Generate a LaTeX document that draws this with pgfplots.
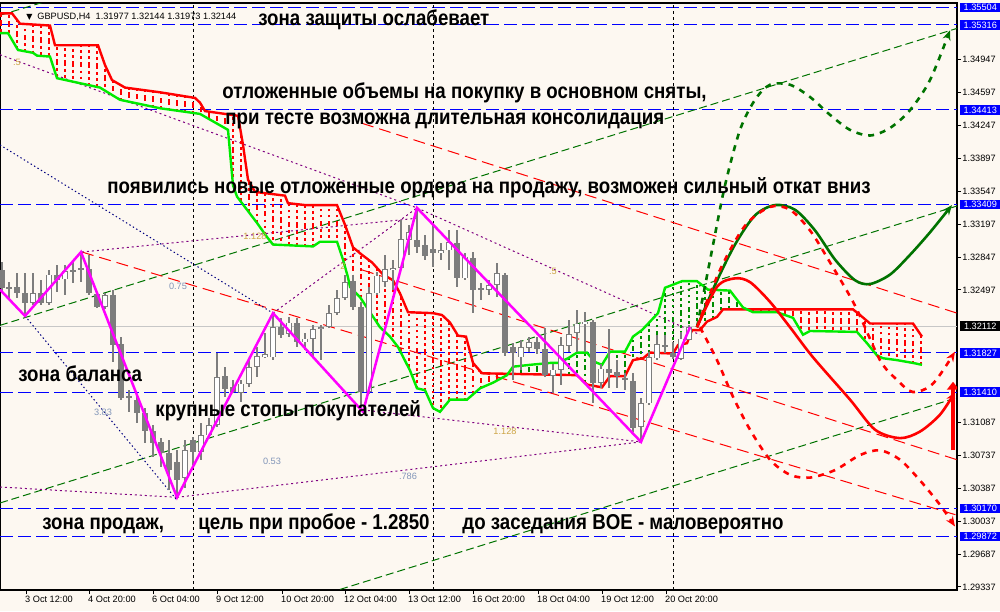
\documentclass[border=0pt]{standalone}
\usepackage{fontspec}
\setmainfont{Liberation Sans}
\newfontfamily\dejavu{DejaVu Sans}
\usepackage{pgfplots}
\usepackage{pgfplotstable}
\pgfplotsset{compat=1.18}
\usetikzlibrary{arrows.meta}
\definecolor{bg}{RGB}{253,248,241}
\definecolor{cgray}{RGB}{125,125,125}
\definecolor{dgreen}{RGB}{0,115,0}
\definecolor{hgreen}{RGB}{0,140,0}
\definecolor{lgreen}{RGB}{0,235,0}
\definecolor{mag}{RGB}{255,0,255}
\definecolor{purp}{RGB}{128,0,128}
\definecolor{navy}{RGB}{0,0,128}
\definecolor{fibor}{RGB}{205,165,70}
\definecolor{fibbl}{RGB}{130,150,185}
\definecolor{lblue}{RGB}{0,0,255}
\newcommand\tickfont{\fontsize{4.6}{5}\selectfont}
\newcommand\annot[1]{\scalebox{1}[1.15]{\fontsize{9.35}{10}\selectfont\bfseries #1}}
\pgfplotsset{nomark/.style={only marks, mark=*, mark size=0pt, mark options={draw=none, fill=none}}}

% candles: x open high low close
\pgfplotstableread{
x o h l c
2 1.3271 1.3280 1.3248 1.3252
9 1.3253 1.3258 1.3239 1.3251
17 1.3253 1.3268 1.3241 1.3246
25 1.3246 1.3268 1.3222 1.3236
41 1.3246 1.3260 1.3234 1.3236
57 1.3266 1.3276 1.3248 1.3260
73 1.3271 1.3282 1.3257 1.3269
81 1.3273 1.3290 1.3258 1.3271
89 1.3272 1.3287 1.3244 1.3246
97 1.3245 1.3248 1.3230 1.3232
113 1.3244 1.3250 1.3173 1.3191
121 1.3192 1.3200 1.3133 1.3135
129 1.3137 1.3143 1.3120 1.3135
137 1.3133 1.3138 1.3108 1.3119
145 1.3119 1.3124 1.3087 1.3100
153 1.3100 1.3106 1.3072 1.3087
161 1.3088 1.3092 1.3061 1.3076
169 1.3076 1.3090 1.3037 1.3058
177 1.3067 1.3079 1.3029 1.3048
193 1.3090 1.3093 1.3063 1.3077
225 1.3158 1.3168 1.3136 1.3144
233 1.3147 1.3154 1.3140 1.3141
281 1.3210 1.3220 1.3199 1.3202
297 1.3215 1.3220 1.3189 1.3194
353 1.3259 1.3266 1.3228 1.3231
361 1.3232 1.3237 1.3122 1.3141
417 1.3303 1.3337 1.3289 1.3296
425 1.3298 1.3308 1.3282 1.3286
433 1.3293 1.3321 1.3274 1.3289
457 1.3300 1.3314 1.3253 1.3262
473 1.3284 1.3290 1.3225 1.3250
481 1.3252 1.3257 1.3239 1.3250
505 1.3266 1.3268 1.3179 1.3183
513 1.3189 1.3193 1.3154 1.3183
537 1.3194 1.3200 1.3181 1.3187
545 1.3187 1.3209 1.3157 1.3159
593 1.3216 1.3218 1.3129 1.3151
609 1.3166 1.3208 1.3145 1.3161
617 1.3162 1.3175 1.3145 1.3158
625 1.3156 1.3161 1.3143 1.3154
633 1.3153 1.3161 1.3099 1.3103
665 1.3191 1.3202 1.3183 1.3189
673 1.3183 1.3194 1.3176 1.3178
}\bear
\pgfplotstableread{
x o h l c
33 1.3236 1.3268 1.3234 1.3246
49 1.3236 1.3271 1.3234 1.3266
65 1.3261 1.3276 1.3244 1.3270
105 1.3232 1.3246 1.3230 1.3244
185 1.3050 1.3090 1.3039 1.3079
201 1.3077 1.3108 1.3069 1.3095
209 1.3095 1.3114 1.3092 1.3106
217 1.3106 1.3183 1.3104 1.3157
241 1.3140 1.3154 1.3130 1.3150
249 1.3150 1.3175 1.3147 1.3168
257 1.3168 1.3189 1.3157 1.3179
265 1.3178 1.3204 1.3177 1.3181
273 1.3178 1.3225 1.3175 1.3210
289 1.3203 1.3221 1.3200 1.3215
305 1.3194 1.3204 1.3186 1.3198
313 1.3198 1.3212 1.3178 1.3208
321 1.3209 1.3212 1.3175 1.3210
329 1.3210 1.3234 1.3209 1.3225
337 1.3225 1.3250 1.3223 1.3241
345 1.3241 1.3266 1.3239 1.3258
369 1.3141 1.3253 1.3139 1.3246
377 1.3246 1.3269 1.3244 1.3265
385 1.3258 1.3287 1.3253 1.3272
393 1.3271 1.3282 1.3250 1.3273
401 1.3273 1.3324 1.3271 1.3304
409 1.3303 1.3319 1.3287 1.3311
441 1.3289 1.3300 1.3282 1.3292
449 1.3292 1.3314 1.3271 1.3301
465 1.3262 1.3289 1.3260 1.3285
489 1.3250 1.3260 1.3244 1.3255
497 1.3255 1.3278 1.3242 1.3268
521 1.3178 1.3196 1.3165 1.3189
529 1.3188 1.3200 1.3184 1.3194
553 1.3158 1.3171 1.3140 1.3165
561 1.3165 1.3200 1.3149 1.3191
569 1.3190 1.3218 1.3184 1.3203
577 1.3204 1.3228 1.3184 1.3214
585 1.3214 1.3226 1.3184 1.3216
601 1.3151 1.3171 1.3145 1.3166
641 1.3104 1.3135 1.3088 1.3129
649 1.3129 1.3184 1.3127 1.3178
657 1.3177 1.3202 1.3175 1.3192
681 1.3176 1.3205 1.3175 1.3198
689 1.3197 1.3212 1.3196 1.3210
}\bull
\pgfplotstableread{
x y
0 1.3544
12 1.3544
20 1.3533
50 1.3531
55 1.3510
98 1.3510
105 1.3489
112 1.3473
125 1.3465
160 1.3460
195 1.3454
200 1.3449
205 1.3440
238 1.3435
243 1.3404
248 1.3367
255 1.3354
285 1.3350
288 1.3342
305 1.3340
337 1.3340
345 1.3319
353 1.3295
362 1.3287
372 1.3279
383 1.3266
393 1.3260
400 1.3246
408 1.3226
433 1.3225
442 1.3223
450 1.3215
458 1.3201
466 1.3200
473 1.3172
482 1.3161
577 1.3159
587 1.3149
602 1.3146
610 1.3158
625 1.3158
633 1.3175
643 1.3177
650 1.3183
673 1.3182
678 1.3191
687 1.3193
692 1.3207
700 1.3207
707 1.3216
717 1.3221
723 1.3229
853 1.3229
860 1.3223
870 1.3214
913 1.3214
922 1.3200
}\redline
\pgfplotstableread{
x y
0 1.3523
8 1.3523
18 1.3505
33 1.3502
37 1.3499
50 1.3498
57 1.3475
100 1.3465
120 1.3452
160 1.3443
200 1.3437
228 1.3420
233 1.3361
237 1.3349
257 1.3321
267 1.3306
273 1.3298
313 1.3296
320 1.3301
337 1.3301
343 1.3282
348 1.3263
350 1.3253
360 1.3242
370 1.3226
380 1.3210
390 1.3200
398 1.3189
410 1.3164
417 1.3145
425 1.3143
433 1.3124
440 1.3120
450 1.3133
467 1.3133
480 1.3145
493 1.3151
507 1.3159
513 1.3168
530 1.3170
550 1.3172
558 1.3172
568 1.3177
577 1.3183
587 1.3183
595 1.3173
602 1.3170
610 1.3184
625 1.3184
633 1.3200
642 1.3207
650 1.3216
658 1.3225
665 1.3252
682 1.3259
697 1.3259
708 1.3250
730 1.3249
743 1.3231
753 1.3226
777 1.3226
793 1.3220
803 1.3202
810 1.3206
857 1.3205
867 1.3193
877 1.3180
883 1.3177
897 1.3175
913 1.3172
922 1.3170
}\greenline
% cloud hatching: x, red line, green line
\pgfplotstableread{
x r g
1 1.3544 1.3523
9 1.3544 1.3521
17 1.3537 1.3507
25 1.3533 1.3504
33 1.3532 1.3502
41 1.3532 1.3499
49 1.3531 1.3498
57 1.3510 1.3475
65 1.3510 1.3473
73 1.3510 1.3471
81 1.3510 1.3469
89 1.3510 1.3468
97 1.3510 1.3466
105 1.3489 1.3462
113 1.3472 1.3456
121 1.3468 1.3452
129 1.3464 1.3450
137 1.3463 1.3448
145 1.3462 1.3446
153 1.3461 1.3445
161 1.3460 1.3443
169 1.3458 1.3442
177 1.3457 1.3440
185 1.3456 1.3439
193 1.3455 1.3438
201 1.3447 1.3436
209 1.3439 1.3431
217 1.3438 1.3426
225 1.3437 1.3422
233 1.3436 1.3361
241 1.3416 1.3343
249 1.3365 1.3332
257 1.3354 1.3321
265 1.3353 1.3309
273 1.3352 1.3298
281 1.3351 1.3298
289 1.3342 1.3297
297 1.3341 1.3297
305 1.3340 1.3296
313 1.3340 1.3296
321 1.3340 1.3301
329 1.3340 1.3301
337 1.3340 1.3301
345 1.3319 1.3274
353 1.3295 1.3250
361 1.3288 1.3240
369 1.3281 1.3228
377 1.3273 1.3215
385 1.3265 1.3205
393 1.3260 1.3196
401 1.3244 1.3183
409 1.3226 1.3166
417 1.3226 1.3145
425 1.3225 1.3143
433 1.3225 1.3124
441 1.3223 1.3121
449 1.3216 1.3132
457 1.3203 1.3133
465 1.3200 1.3133
473 1.3172 1.3139
481 1.3162 1.3145
489 1.3161 1.3149
497 1.3161 1.3153
753 1.3229 1.3226
761 1.3229 1.3226
769 1.3229 1.3226
777 1.3229 1.3226
785 1.3229 1.3223
793 1.3229 1.3220
801 1.3229 1.3206
809 1.3229 1.3205
817 1.3229 1.3206
825 1.3229 1.3206
833 1.3229 1.3205
841 1.3229 1.3205
849 1.3229 1.3205
857 1.3226 1.3205
865 1.3219 1.3195
873 1.3214 1.3185
881 1.3214 1.3178
889 1.3214 1.3176
897 1.3214 1.3175
905 1.3214 1.3173
913 1.3214 1.3172
921 1.3202 1.3170
}\hatchred
\pgfplotstableread{
x r g
513 1.3161 1.3168
521 1.3160 1.3169
529 1.3160 1.3170
537 1.3160 1.3171
545 1.3160 1.3172
553 1.3160 1.3172
561 1.3159 1.3174
569 1.3159 1.3178
577 1.3159 1.3183
585 1.3151 1.3183
593 1.3148 1.3175
601 1.3146 1.3170
609 1.3157 1.3182
617 1.3158 1.3184
625 1.3158 1.3184
633 1.3175 1.3200
641 1.3177 1.3206
649 1.3182 1.3215
657 1.3183 1.3224
665 1.3183 1.3252
673 1.3182 1.3255
681 1.3192 1.3259
689 1.3199 1.3259
697 1.3207 1.3259
705 1.3213 1.3252
713 1.3219 1.3250
721 1.3226 1.3250
729 1.3229 1.3249
737 1.3229 1.3239
}\hatchgreen

\begin{document}
\begin{tikzpicture}
\fill[bg] (0,-10.5pt) rectangle (500pt,295pt);
\begin{axis}[
  at={(0,0)}, anchor=south west,
  scale only axis, width=478.5pt, height=293.5pt,
  xmin=0, xmax=957, ymin=1.29304, ymax=1.35550,
  clip mode=individual,
  axis line style={black, line width=0.6pt},
  tick style={black, line width=0.5pt},
  tick align=outside, major tick length=2pt,
  ytick pos=right, yticklabel pos=right,
  xtick pos=bottom,
  ytick={1.29337,1.29687,1.30037,1.30387,1.30737,1.31087,1.32497,1.32847,1.33197,1.33547,1.33897,1.34247,1.34597,1.34947},
  yticklabels={1.29337,1.29687,1.30037,1.30387,1.30737,1.31087,1.32497,1.32847,1.33197,1.33547,1.33897,1.34247,1.34597,1.34947},
  yticklabel style={font=\tickfont, anchor=west, inner sep=0pt, xshift=0.5pt},
  xtick={26,89,153,217,282,345,409,473,538,602,666},
  xticklabels={3 Oct 12:00,4 Oct 20:00,6 Oct 04:00,9 Oct 12:00,10 Oct 20:00,12 Oct 04:00,13 Oct 12:00,16 Oct 20:00,18 Oct 04:00,19 Oct 12:00,20 Oct 20:00},
  xticklabel style={font=\tickfont, anchor=north west, inner sep=0pt, xshift=-0.6pt, yshift=-0.8pt},
]
% horizontal levels
\addplot[lblue, line width=0.5pt, dash pattern=on 6.5pt off 2.5pt] coordinates {(0,1.35504) (957,1.35504)};
\addplot[lblue, line width=0.5pt, dash pattern=on 6.5pt off 2.5pt] coordinates {(0,1.35316) (957,1.35316)};
\addplot[lblue, line width=0.5pt, dash pattern=on 6.5pt off 2.5pt] coordinates {(0,1.34413) (957,1.34413)};
\addplot[lblue, line width=0.5pt, dash pattern=on 6.5pt off 2.5pt] coordinates {(0,1.33409) (957,1.33409)};
\addplot[lblue, line width=0.5pt, dash pattern=on 6.5pt off 2.5pt] coordinates {(0,1.31827) (957,1.31827)};
\addplot[lblue, line width=0.5pt, dash pattern=on 6.5pt off 2.5pt] coordinates {(0,1.31410) (957,1.31410)};
\addplot[lblue, line width=0.5pt, dash pattern=on 6.5pt off 2.5pt] coordinates {(0,1.30170) (957,1.30170)};
\addplot[lblue, line width=0.5pt, dash pattern=on 6.5pt off 2.5pt] coordinates {(0,1.29872) (957,1.29872)};
\addplot[black!22, line width=0.5pt] coordinates {(0,1.32112) (957,1.32112)};
% week separators
\addplot[black, line width=0.5pt, dash pattern=on 1.5pt off 1.5pt] coordinates {(193,1.29304) (193,1.3555)};
\addplot[black, line width=0.5pt, dash pattern=on 1.5pt off 1.5pt] coordinates {(433,1.29304) (433,1.3555)};
\addplot[black, line width=0.5pt, dash pattern=on 1.5pt off 1.5pt] coordinates {(673,1.29304) (673,1.3555)};
% green channel
\addplot[dgreen, line width=0.5pt, dash pattern=on 4pt off 2pt] coordinates {(0,1.3212) (957,1.3528)};
\addplot[dgreen, line width=0.5pt, dash pattern=on 4pt off 2pt] coordinates {(0,1.3023) (957,1.3339)};
\addplot[dgreen, line width=0.5pt, dash pattern=on 4pt off 2pt] coordinates {(340,1.2931) (957,1.3135)};
\addplot[dgreen, line width=0.5pt, dash pattern=on 4pt off 2pt] coordinates {(0,1.3542) (50,1.3558)};
% red channel
\addplot[red, line width=0.5pt, dash pattern=on 6pt off 3pt] coordinates {(362,1.3271) (957,1.3069)};
\addplot[red, line width=0.5pt, dash pattern=on 6pt off 3pt] coordinates {(362,1.3427) (957,1.3225)};
\addplot[red, line width=0.5pt, dash pattern=on 6pt off 3pt] coordinates {(82,1.3290) (957,1.3010)};
% purple fib lines
\addplot[purp, line width=0.5pt, dash pattern=on 1pt off 1.5pt] coordinates {(82,1.3290) (417,1.3326)};
\addplot[purp, line width=0.5pt, dash pattern=on 1pt off 1.5pt] coordinates {(177,1.3029) (641,1.3088)};
\addplot[purp, line width=0.5pt, dash pattern=on 1pt off 1.5pt] coordinates {(417,1.3337) (700,1.3202)};
\addplot[purp, line width=0.5pt, dash pattern=on 1pt off 1.5pt] coordinates {(273,1.3225) (417,1.3337)};
\addplot[purp, line width=0.5pt, dash pattern=on 1pt off 1.5pt] coordinates {(363,1.3122) (641,1.3088)};
\addplot[purp, line width=0.5pt, dash pattern=on 1pt off 1.5pt] coordinates {(0,1.3500) (417,1.3337)};
\addplot[purp, line width=0.5pt, dash pattern=on 1pt off 1.5pt] coordinates {(0,1.3040) (177,1.3029)};
% navy dotted
\addplot[navy, line width=0.5pt, dash pattern=on 0.7pt off 1.3pt] coordinates {(0,1.3404) (273,1.3225)};
\addplot[navy, line width=0.5pt, dash pattern=on 0.7pt off 1.3pt] coordinates {(25,1.3222) (177,1.3026)};
% cloud hatching
\addplot[nomark, red, error bars/.cd, y dir=both, y explicit, error mark=none, error bar style={line width=0.55pt, draw=red, solid, dash pattern=on 1.4pt off 1.6pt}]
  table[x=x, y expr={(\thisrow{r}+\thisrow{g})/2}, y error expr={abs(\thisrow{r}-\thisrow{g})/2}] {\hatchred};
\addplot[nomark, hgreen, error bars/.cd, y dir=both, y explicit, error mark=none, error bar style={line width=0.55pt, draw=hgreen, solid, dash pattern=on 1.4pt off 1.6pt}]
  table[x=x, y expr={(\thisrow{r}+\thisrow{g})/2}, y error expr={abs(\thisrow{r}-\thisrow{g})/2}] {\hatchgreen};
\addplot[red, line width=1.2pt] table[x=x,y=y] {\redline};
\addplot[lgreen, line width=1.2pt] table[x=x,y=y] {\greenline};
% candles: wicks
\addplot[nomark, cgray, error bars/.cd, y dir=both, y explicit, error mark=none, error bar style={line width=0.55pt, cgray}]
  table[x=x, y expr={(\thisrow{h}+\thisrow{l})/2}, y error expr={(\thisrow{h}-\thisrow{l})/2}] {\bear};
\addplot[nomark, cgray, error bars/.cd, y dir=both, y explicit, error mark=none, error bar style={line width=0.55pt, cgray}]
  table[x=x, y expr={(\thisrow{h}+\thisrow{l})/2}, y error expr={(\thisrow{h}-\thisrow{l})/2}] {\bull};
% bodies
\addplot[nomark, cgray, error bars/.cd, y dir=both, y explicit, error mark=none, error bar style={line width=2.7pt, cgray}]
  table[x=x, y expr={(\thisrow{o}+\thisrow{c})/2}, y error expr={max(abs(\thisrow{o}-\thisrow{c})/2,0.00006)}] {\bear};
\addplot[nomark, cgray, error bars/.cd, y dir=both, y explicit, error mark=none, error bar style={line width=2.7pt, cgray}]
  table[x=x, y expr={(\thisrow{o}+\thisrow{c})/2}, y error expr={max(abs(\thisrow{o}-\thisrow{c})/2,0.00006)}] {\bull};
\addplot[nomark, white, error bars/.cd, y dir=both, y explicit, error mark=none, error bar style={line width=1.6pt, white}]
  table[x=x, y expr={(\thisrow{o}+\thisrow{c})/2}, y error expr={max(abs(\thisrow{o}-\thisrow{c})/2-0.00008,0.000001)}] {\bull};
% zigzag
\addplot[mag, line width=1.25pt] coordinates {(0,1.3250) (25,1.3222) (81,1.3290) (177,1.3029) (273,1.3225) (363,1.3120) (417,1.3337) (641,1.3088) (690,1.3210)};
% forecasts
\addplot[dgreen, line width=1.3pt, dashed, smooth, -{Stealth[length=5pt,width=4pt]}] coordinates {(697,1.3210) (712,1.3292) (725,1.3361) (740,1.3420) (755,1.3452) (770,1.3468) (790,1.3468) (810,1.3455) (830,1.3436) (850,1.3420) (870,1.3414) (890,1.3422) (910,1.3441) (930,1.3473) (950,1.3526)};
\addplot[dgreen, line width=1.3pt, smooth, -{Stealth[length=5pt,width=4pt]}] coordinates {(697,1.3210) (715,1.3255) (735,1.3298) (755,1.3329) (775,1.3340) (795,1.3335) (815,1.3313) (835,1.3282) (855,1.3260) (870,1.3256) (890,1.3266) (910,1.3287) (930,1.3311) (952,1.3340)};
\addplot[red, line width=1.3pt, smooth, -{Stealth[length=5pt,width=4pt]}] coordinates {(697,1.3210) (717,1.3253) (735,1.3262) (750,1.3258) (770,1.3237) (790,1.3210) (813,1.3178) (850,1.3133) (875,1.3101) (900,1.3092) (920,1.3099) (940,1.3117) (955,1.3141)};
\addplot[red, line width=1.3pt, dashed, smooth, -{Stealth[length=5pt,width=4pt]}] coordinates {(697,1.3210) (720,1.3271) (745,1.3318) (770,1.3338) (790,1.3335) (810,1.3313) (830,1.3279) (855,1.3233) (880,1.3175) (897,1.3154) (913,1.3141) (933,1.3150) (955,1.3184)};
\addplot[red, line width=1.3pt, dashed, smooth, -{Stealth[length=5pt,width=4pt]}] coordinates {(700,1.3210) (717,1.3175) (733,1.3136) (750,1.3101) (770,1.3069) (790,1.3053) (810,1.3050) (835,1.3058) (860,1.3074) (880,1.3079) (900,1.3069) (920,1.3047) (940,1.3021) (955,1.2998)};
\addplot[red, line width=2.2pt, -{Triangle[length=4pt,width=6pt]}] coordinates {(953,1.3079) (953,1.3152)};
% fib labels
\node[font=\tickfont, text=fibor, anchor=center] at (axis cs:17,1.3492) {.5};
\node[font=\tickfont, text=fibor, anchor=center] at (axis cs:255,1.3307) {1.128};
\node[font=\tickfont, text=fibbl, anchor=center] at (axis cs:178,1.3253) {0.75};
\node[font=\tickfont, text=fibbl, anchor=center] at (axis cs:103,1.3119) {3.83};
\node[font=\tickfont, text=fibbl, anchor=center] at (axis cs:272,1.3067) {0.53};
\node[font=\tickfont, text=fibbl, anchor=center] at (axis cs:408,1.3051) {.786};
\node[font=\tickfont, text=fibor, anchor=center] at (axis cs:505,1.3099) {1.128};
\node[font=\tickfont, text=fibor, anchor=center] at (axis cs:553,1.3269) {.5};
\node[font=\tickfont, text=fibor, anchor=center] at (axis cs:343,1.3275) {2};
% header
\node[font=\tickfont, anchor=base west, inner sep=0pt] at (axis cs:37,1.3537) {GBPUSD,H4\ \ 1.31977 1.32144 1.31973 1.32144};
\node[font={\dejavu\fontsize{4}{4}\selectfont}, anchor=base west, inner sep=0pt] at (axis cs:26,1.3537) {▼};
% annotations
\node[anchor=base west, inner sep=0pt] at (axis cs:258,1.3531) {\annot{зона защиты ослабевает}};
\node[anchor=base west, inner sep=0pt] at (axis cs:222,1.3453) {\annot{отложенные объемы на покупку в основном сняты,}};
\node[anchor=base west, inner sep=0pt] at (axis cs:225,1.3426) {\annot{при тесте возможна длительная консолидация}};
\node[anchor=base west, inner sep=0pt] at (axis cs:107,1.3352) {\annot{появились новые отложенные ордера на продажу, возможен сильный откат вниз}};
\node[anchor=base west, inner sep=0pt] at (axis cs:18,1.3152) {\annot{зона баланса}};
\node[anchor=base west, inner sep=0pt] at (axis cs:155,1.3115) {\annot{крупные стопы покупателей}};
\node[anchor=base west, inner sep=0pt] at (axis cs:42,1.2995) {\annot{зона продаж,}};
\node[anchor=base west, inner sep=0pt] at (axis cs:198,1.2995) {\annot{цель при пробое - 1.2850}};
\node[anchor=base west, inner sep=0pt] at (axis cs:462,1.2995) {\annot{до заседания BOE - маловероятно}};
% right price labels
\foreach \p in {1.35504,1.35316,1.34413,1.33409,1.31827,1.31410,1.30170,1.29872}{
  \edef\tmp{\noexpand\node[font=\noexpand\tickfont, fill=lblue, text=white, anchor=west, inner xsep=1pt, inner ysep=0.7pt, minimum width=20.5pt, xshift=1.2pt] at (axis cs:957,\p) {\p};}\tmp
}
\node[font=\tickfont, fill=black, text=white, anchor=west, inner xsep=1pt, inner ysep=0.7pt, minimum width=20.5pt, xshift=1.2pt] at (axis cs:957,1.32112) {1.32112};
\end{axis}
\pgfresetboundingbox
\path[use as bounding box] (0,-10.5pt) rectangle (500pt,295pt);
\end{tikzpicture}
\end{document}
